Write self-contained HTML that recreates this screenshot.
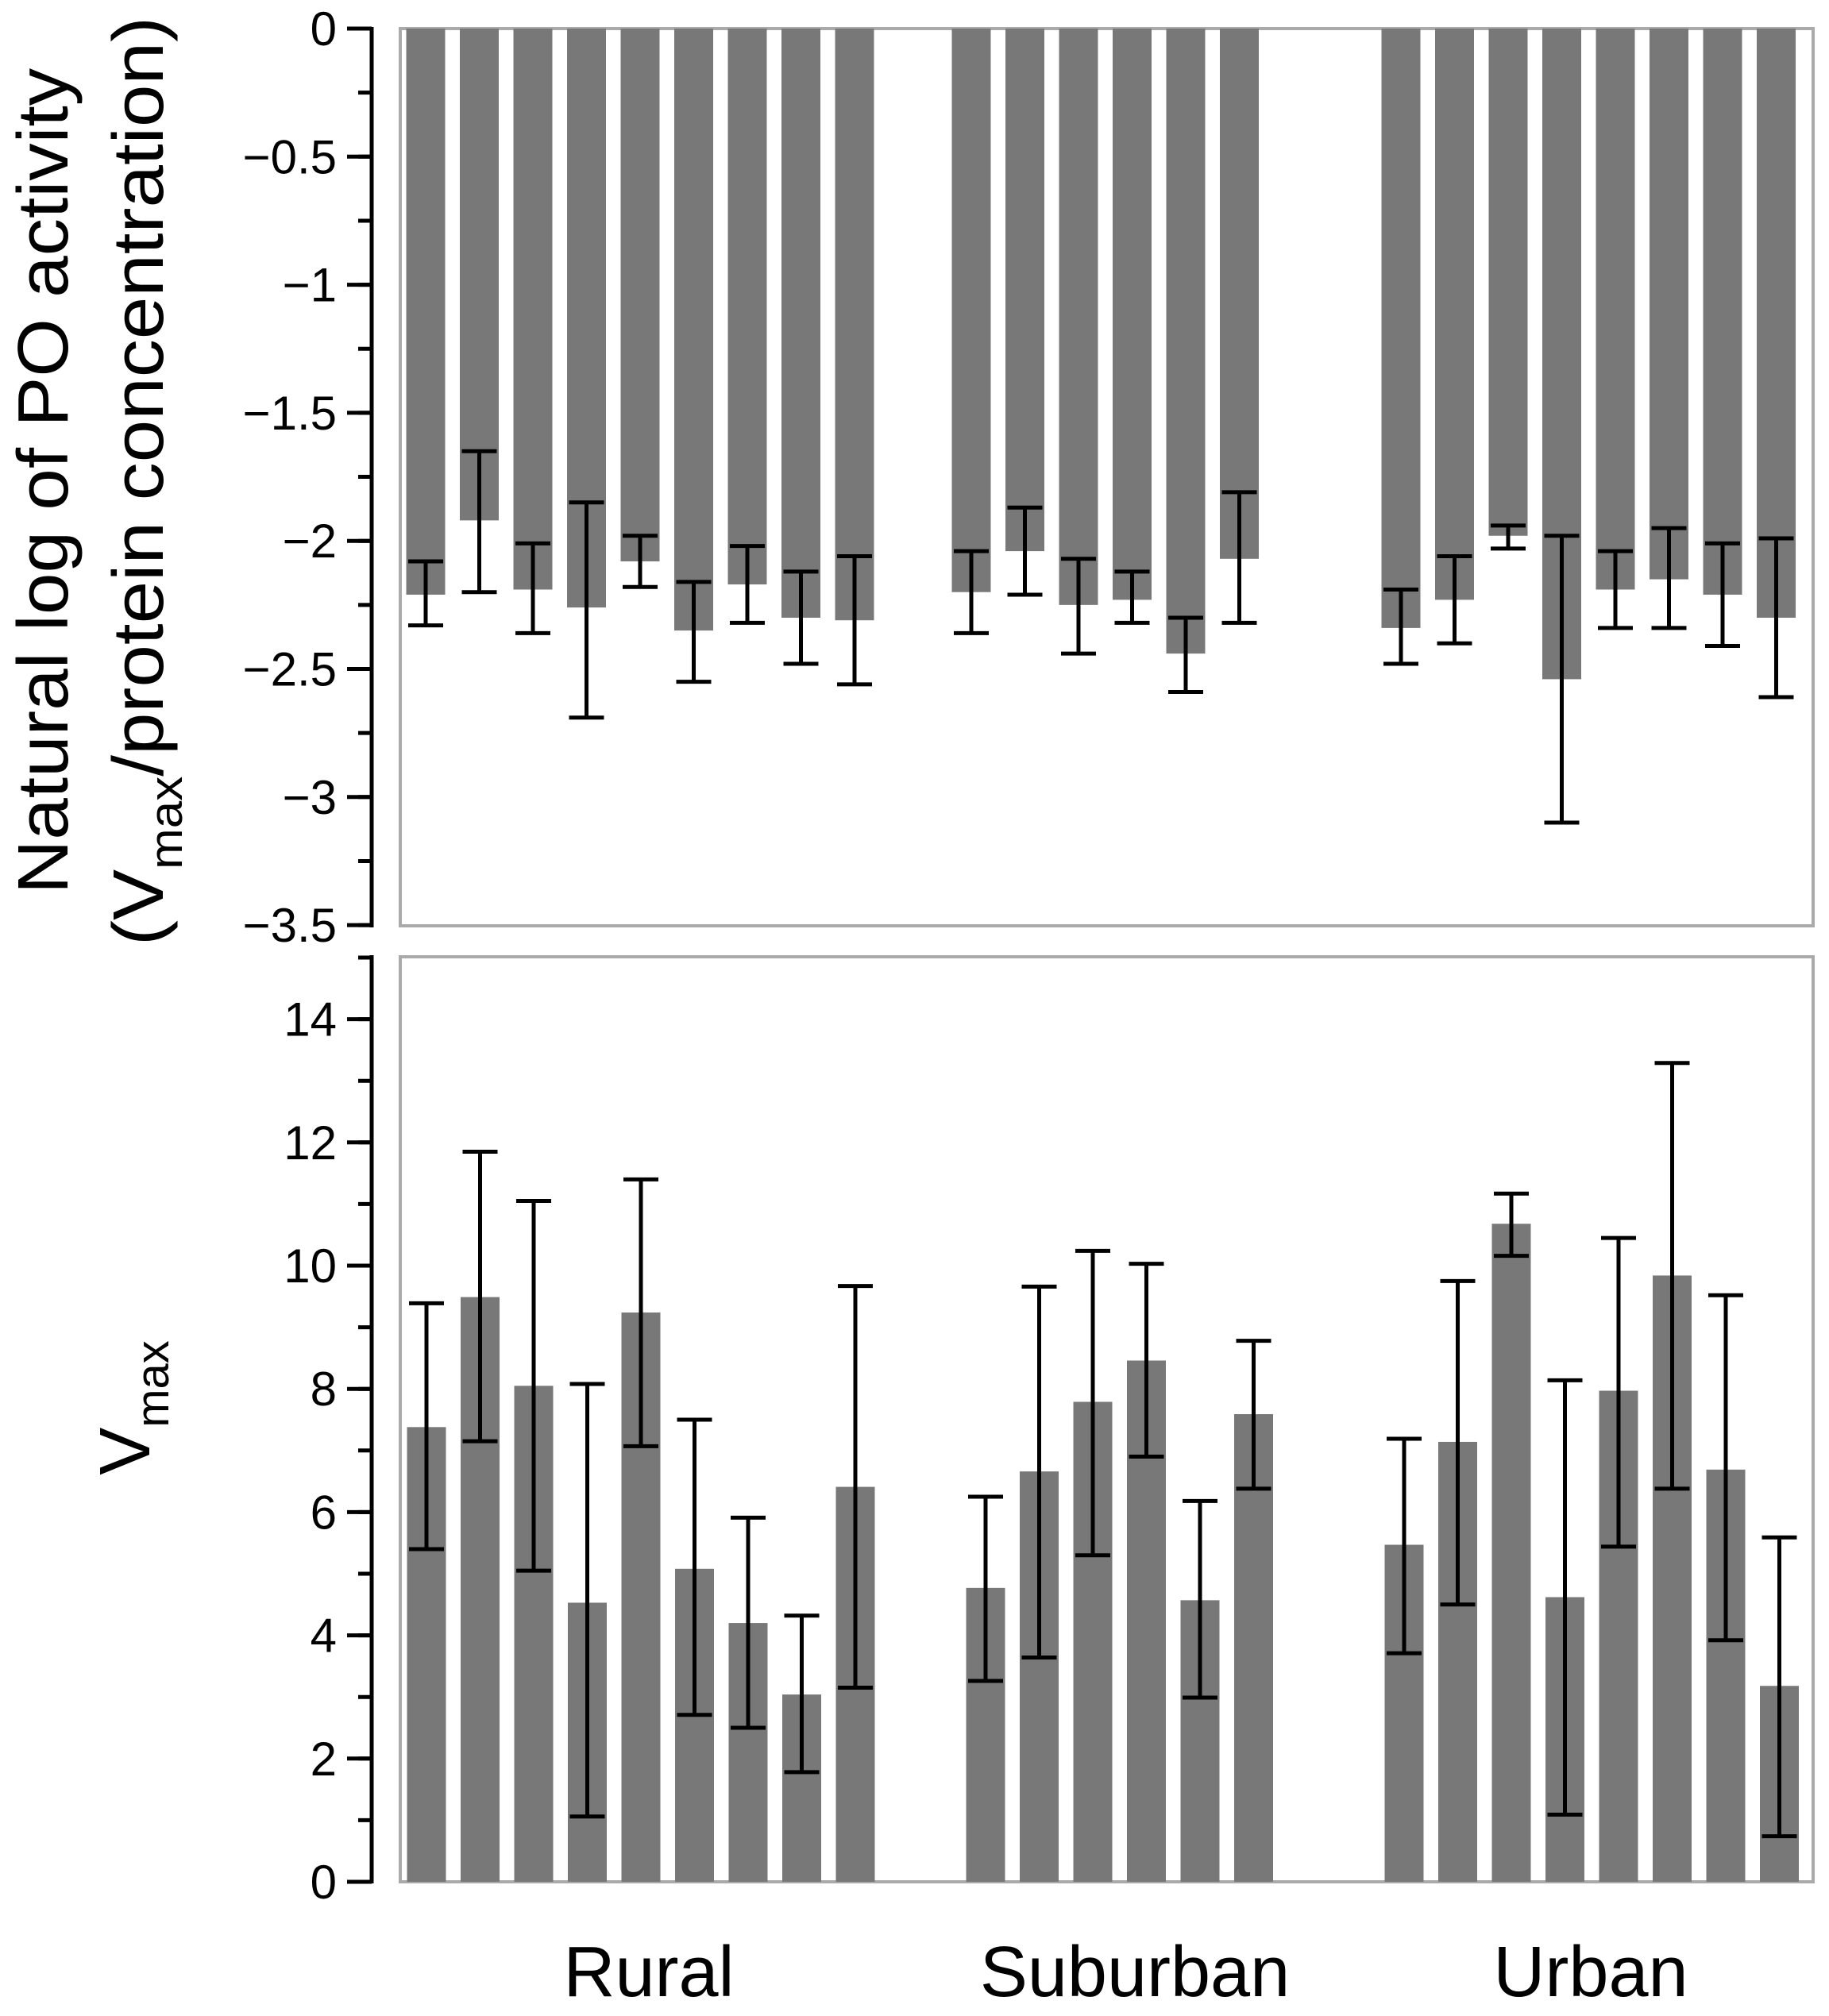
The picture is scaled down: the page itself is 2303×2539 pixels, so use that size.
<!DOCTYPE html>
<html><head><meta charset="utf-8"><style>
html,body{margin:0;padding:0;background:#fff;}
svg{display:block;}
text{font-family:"Liberation Sans",sans-serif;fill:#000;}
</style></head><body>
<svg id="chart" width="2303" height="2539" viewBox="0 0 2303 2539" xmlns="http://www.w3.org/2000/svg">
<g id="titles">
<text transform="translate(85,606) rotate(-90)" text-anchor="middle" font-size="90" textLength="1040" lengthAdjust="spacingAndGlyphs">Natural log of PO activity</text>
<text transform="translate(205,606) rotate(-90)" text-anchor="middle" font-size="90" textLength="1170" lengthAdjust="spacingAndGlyphs">(V<tspan font-size="58" dy="24">max</tspan><tspan dy="-24">/protein concentration)</tspan></text>
<text transform="translate(188,1773) rotate(-90)" text-anchor="middle" font-size="90">V<tspan font-size="58" dy="24">max</tspan></text>
<text x="817" y="2514" text-anchor="middle" font-size="90">Rural</text>
<text x="1429" y="2514" text-anchor="middle" font-size="90">Suburban</text>
<text x="2003" y="2514" text-anchor="middle" font-size="90">Urban</text>
</g>
</svg>
<script>
// ---- data ----
const groups = ["Rural", "Suburban", "Urban"];
const groupCounts = [9, 6, 8];
const topValues = [-2.21,-1.92,-2.19,-2.26,-2.08,-2.35,-2.17,-2.30,-2.31, -2.20,-2.04,-2.25,-2.23,-2.44,-2.07, -2.34,-2.23,-1.98,-2.54,-2.19,-2.15,-2.21,-2.30];
const topErrHi = [-2.08,-1.65,-2.01,-1.85,-1.98,-2.16,-2.02,-2.12,-2.06, -2.04,-1.87,-2.07,-2.12,-2.30,-1.81, -2.19,-2.06,-1.94,-1.98,-2.04,-1.95,-2.01,-1.99];
const topErrLo = [-2.33,-2.20,-2.36,-2.69,-2.18,-2.55,-2.32,-2.48,-2.56, -2.36,-2.21,-2.44,-2.32,-2.59,-2.32, -2.48,-2.40,-2.03,-3.10,-2.34,-2.34,-2.41,-2.61];
const botValues = [7.38,9.49,8.05,4.53,9.24,5.08,4.20,3.04,6.41, 4.77,6.66,7.79,8.46,4.57,7.59, 5.47,7.14,10.68,4.62,7.97,9.84,6.69,3.18];
const botErrHi = [9.39,11.85,11.05,8.08,11.40,7.50,5.91,4.32,9.67, 6.25,9.66,10.24,10.03,6.18,8.78, 7.19,9.75,11.17,8.14,10.45,13.29,9.52,5.59];
const botErrLo = [5.40,7.15,5.05,1.06,7.07,2.71,2.50,1.78,3.15, 3.26,3.64,5.30,6.90,2.99,6.38, 3.71,4.50,10.16,1.09,5.44,6.38,3.92,0.74];
const topTicks = [0,-0.5,-1,-1.5,-2,-2.5,-3,-3.5];
const topTickLabels = ["0","\u22120.5","\u22121","\u22121.5","\u22122","\u22122.5","\u22123","\u22123.5"];
const botTicks = [0,2,4,6,8,10,12,14];
const botTickLabels = ["0","2","4","6","8","10","12","14"];

// ---- layout ----
const NS = "http://www.w3.org/2000/svg";
const svg = document.getElementById("chart");
const axisX = 468, frameL = 504, frameR = 2283;
const topY = v => 36 + (0 - v) * 322.6;
const botY = v => 2370 - v * 77.6;
const step = 67.5, barW = 49;
const topStarts = [536, 1223, 1764];
const botStarts = [537, 1241, 1768];
function xOf(starts, idx) {
  let g = 0, i = idx;
  while (i >= groupCounts[g]) { i -= groupCounts[g]; g++; }
  return starts[g] + i * step;
}
function mk(tag, attrs, parent) {
  const e = document.createElementNS(NS, tag);
  for (const k in attrs) e.setAttribute(k, attrs[k]);
  (parent || svg).appendChild(e);
  return e;
}

function panel(prefix, yf, y0, yTop, yBot, vals, hi, lo, starts, ticks, labels, minorStep, minMin, minMax) {
  const frame = mk("rect", {x: frameL, y: yTop, width: frameR - frameL, height: yBot - yTop, fill: "none", stroke: "#aaaaaa", "stroke-width": 4});
  
  
  vals.forEach((v, i) => {
    const cx = xOf(starts, i);
    const ya = yf(y0), yb = yf(v);
    const bar = mk("rect", {x: cx - barW / 2, y: Math.min(ya, yb), width: barW, height: Math.abs(yb - ya), fill: "#787878"});
    
    
    const g = mk("g", {stroke: "#000", "stroke-width": 5});
    
    
    mk("line", {x1: cx, x2: cx, y1: yf(hi[i]), y2: yf(lo[i])}, g);
    mk("line", {x1: cx - 22, x2: cx + 22, y1: yf(hi[i]), y2: yf(hi[i])}, g);
    mk("line", {x1: cx - 22, x2: cx + 22, y1: yf(lo[i]), y2: yf(lo[i])}, g);
  });
  const ax = mk("g", {stroke: "#000", "stroke-width": 5});
  
  
  mk("line", {x1: axisX, x2: axisX, y1: yTop - 2, y2: yBot + 2}, ax);
  for (let v = minMin; v <= minMax + 1e-9; v += minorStep) {
    mk("line", {x1: axisX - 17, x2: axisX, y1: yf(v), y2: yf(v)}, ax);
  }
  ticks.forEach((t, i) => {
    mk("line", {x1: axisX - 31, x2: axisX, y1: yf(t), y2: yf(t)}, ax);
    const tx = mk("text", {x: 424, y: yf(t) + 21, "text-anchor": "end", "font-size": 60});
    tx.textContent = labels[i];
    
    
  });
}
panel("top", topY, 0, 36, 1166, topValues, topErrHi, topErrLo, topStarts, topTicks, topTickLabels, 0.25, -3.5, 0);
panel("bottom", botY, 0, 1205, 2370, botValues, botErrHi, botErrLo, botStarts, botTicks, botTickLabels, 1, 0, 15);
</script>
</body></html>
